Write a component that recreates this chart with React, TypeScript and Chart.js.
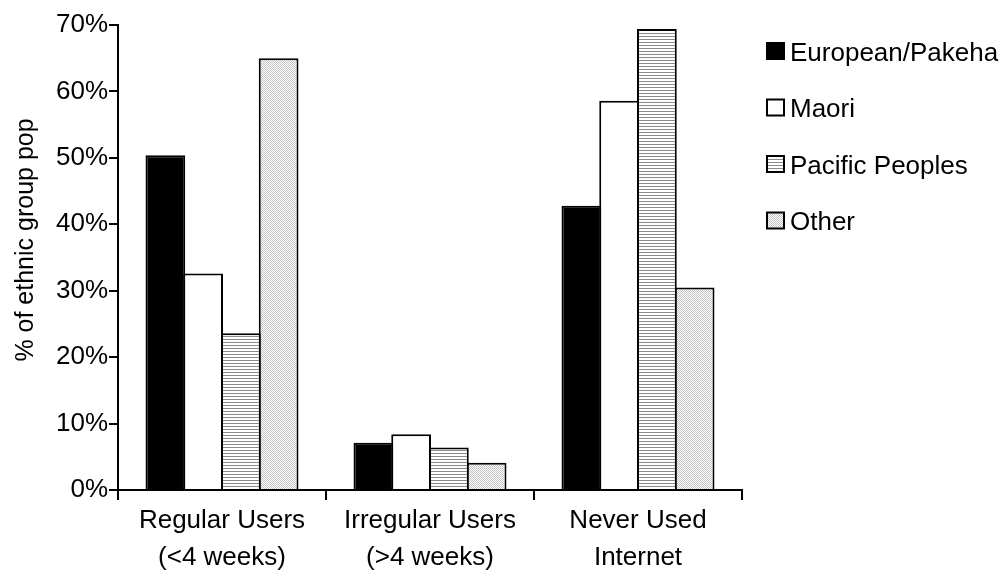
import React, { useEffect, useRef } from "react";
import { Chart, registerables } from "chart.js";

Chart.register(...registerables);

const categories: string[][] = [
  ["Regular Users", "(<4 weeks)"],
  ["Irregular Users", "(>4 weeks)"],
  ["Never Used", "Internet"],
];
const seriesNames = ["European/Pakeha", "Maori", "Pacific Peoples", "Other"];
const european = [50.4, 7.1, 42.8];
const maori = [32.6, 8.4, 58.6];
const pacific = [23.6, 6.4, 69.4];
const other = [65.0, 4.1, 30.5];
const yTicks = [0, 10, 20, 30, 40, 50, 60, 70];
const yTitle = "% of ethnic group pop";

const FONT = "'Liberation Sans', Arial, sans-serif";

function makePattern(kind: "hlines" | "dots"): CanvasPattern | string {
  const c = document.createElement("canvas");
  const x = c.getContext("2d");
  if (!x) return "#ccc";
  if (kind === "hlines") {
    c.width = 4;
    c.height = 3;
    x.fillStyle = "#ffffff";
    x.fillRect(0, 0, 4, 3);
    x.fillStyle = "#8a8a8a";
    x.fillRect(0, 0, 4, 1);
  } else {
    c.width = 2;
    c.height = 2;
    x.fillStyle = "#ffffff";
    x.fillRect(0, 0, 2, 2);
    x.fillStyle = "#c4c4c4";
    x.fillRect(0, 0, 1, 1);
    x.fillRect(1, 1, 1, 1);
  }
  const p = x.createPattern(c, "repeat");
  return p || "#ccc";
}

const legendPlugin = {
  id: "customLegend",
  afterDraw(chart: any) {
    const ctx = chart.ctx as CanvasRenderingContext2D;
    ctx.save();
    const boxX = 767;
    const boxW = 17;
    const boxH = 16;
    const top = 51;
    const step = 56.5;
    chart.data.datasets.forEach((ds: any, i: number) => {
      const cy = top + i * step;
      ctx.fillStyle = ds.backgroundColor;
      ctx.fillRect(boxX, cy - boxH / 2, boxW, boxH);
      ctx.strokeStyle = "#000";
      ctx.lineWidth = 2;
      ctx.strokeRect(boxX, cy - boxH / 2, boxW, boxH);
      ctx.fillStyle = "#000";
      ctx.font = `26px ${FONT}`;
      ctx.textAlign = "left";
      ctx.textBaseline = "alphabetic";
      ctx.fillText(ds.label, 790, cy + 9.5);
    });
    // y-axis title
    ctx.translate(33, 240);
    ctx.rotate(-Math.PI / 2);
    ctx.font = `25px ${FONT}`;
    ctx.textAlign = "center";
    ctx.textBaseline = "alphabetic";
    ctx.fillStyle = "#000";
    ctx.fillText(yTitle, 0, 0);
    ctx.restore();
  },
};

export default function App() {
  const ref = useRef<HTMLCanvasElement | null>(null);

  useEffect(() => {
    if (!ref.current) return;
    const hl = makePattern("hlines");
    const dots = makePattern("dots");
    const common = {
      borderColor: "#000",
      borderWidth: 2,
      categoryPercentage: 0.726,
      barPercentage: 1.053,
    };
    const chart = new Chart(ref.current, {
      type: "bar",
      data: {
        labels: categories,
        datasets: [
          { label: seriesNames[0], data: european, backgroundColor: "#000", ...common },
          { label: seriesNames[1], data: maori, backgroundColor: "#fff", ...common },
          { label: seriesNames[2], data: pacific, backgroundColor: hl as any, ...common },
          { label: seriesNames[3], data: other, backgroundColor: dots as any, ...common },
        ],
      },
      options: {
        responsive: false,
        animation: false,
        layout: { padding: { top: 25, right: 264, left: 0, bottom: 0 } },
        plugins: {
          legend: { display: false },
          tooltip: { enabled: false },
        },
        scales: {
          x: {
            afterFit: (s: any) => {
              s.height = 82;
            },
            grid: {
              display: true,
              drawOnChartArea: false,
              drawTicks: true,
              tickLength: 10,
              color: "#000",
              lineWidth: 2,
              offset: true,
            },
            border: { display: true, color: "#000", width: 2 },
            ticks: {
              color: "#000",
              padding: 2,
              maxRotation: 0,
              autoSkip: false,
              font: { family: FONT, size: 26, lineHeight: 1.42 },
            },
          },
          y: {
            min: 0,
            max: 70,
            afterFit: (s: any) => {
              s.width = 118;
            },
            afterBuildTicks: (s: any) => {
              s.ticks = yTicks.map((v) => ({ value: v }));
            },
            grid: {
              display: true,
              drawOnChartArea: false,
              drawTicks: true,
              tickLength: 9,
              color: "#000",
              lineWidth: 2,
            },
            border: { display: true, color: "#000", width: 2 },
            ticks: {
              color: "#000",
              padding: 1,
              callback: (v: any) => `${v}%`,
              font: { family: FONT, size: 26 },
            },
          },
        },
      },
      plugins: [legendPlugin],
    });
    return () => chart.destroy();
  }, []);

  return (
    <div style={{ position: "fixed", left: 0, top: 0, width: 1006, height: 572, background: "#fff" }}>
      <canvas ref={ref} width={1006} height={572} style={{ display: "block" }} />
    </div>
  );
}
